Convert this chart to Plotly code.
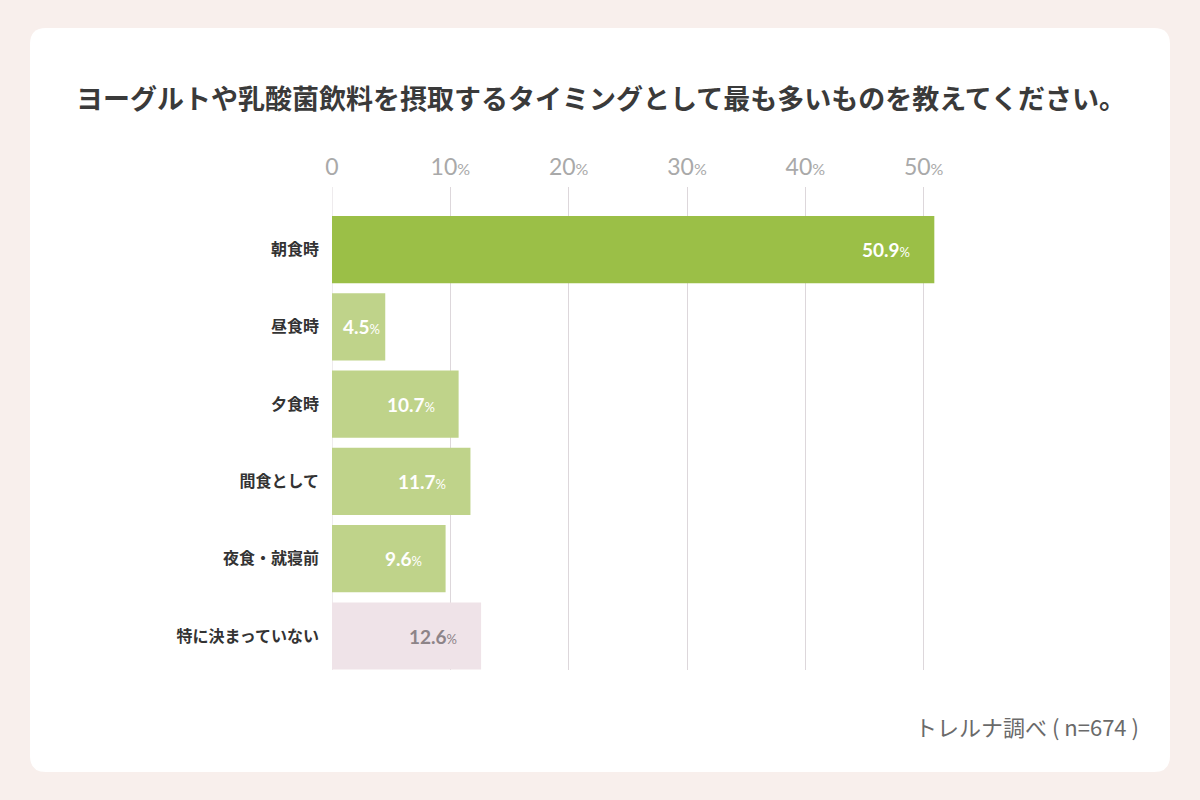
import plotly.graph_objects as go

categories = ["朝食時", "昼食時", "夕食時", "間食として", "夜食・就寝前", "特に決まっていない"]
values = [50.9, 4.5, 10.7, 11.7, 9.6, 12.6]
bar_colors = ["#9bbf47", "#bfd38a", "#bfd38a", "#bfd38a", "#bfd38a", "#efe3e8"]
label_colors = ["#ffffff", "#ffffff", "#ffffff", "#ffffff", "#ffffff", "#8d8488"]
tick_vals = [0, 10, 20, 30, 40, 50]
tick_text = ["0"] + [f"{v}<span style='font-size:16px'>%</span>" for v in tick_vals[1:]]
title_text = "ヨーグルトや乳酸菌飲料を摂取するタイミングとして最も多いものを教えてください。"
source_text = "トレルナ調べ ( n=674 )"

W, H = 1200, 800
L, R, T, B = 332, 971, 187, 670
XMIN, XMAX = 0.0, 54.0
GRID = "#ddd7db"

def px_x(p):
    return (p - L) / (R - L)

def px_y(p):
    return (B - p) / (B - T)

fig = go.Figure()
fig.add_trace(go.Bar(
    y=categories, x=values, orientation="h",
    marker=dict(color=bar_colors, line=dict(width=0)),
    width=0.87, hoverinfo="skip",
))

annotations = []
for cat, v, c in zip(categories, values, label_colors):
    txt = f"<b>{v}</b><span style='font-size:13px'>%</span>"
    if v * (R - L) / XMAX < 80:
        annotations.append(dict(x=v / 2, y=cat, xref="x", yref="y", text=txt, showarrow=False,
                                xanchor="center", xshift=3,
                                font=dict(family="Lato, Noto Sans", size=19, color=c)))
    else:
        annotations.append(dict(x=v, y=cat, xref="x", yref="y", text=txt, showarrow=False,
                                xanchor="right", xshift=-22,
                                font=dict(family="Lato, Noto Sans", size=19, color=c)))

annotations.append(dict(x=px_x(601), y=px_y(97), xref="paper", yref="paper", text=f"<b>{title_text}</b>",
                        showarrow=False, xanchor="center", yanchor="middle",
                        font=dict(family="Noto Sans CJK JP", size=27, color="#3a3a3a")))
annotations.append(dict(x=px_x(1141), y=px_y(726), xref="paper", yref="paper", text=source_text,
                        showarrow=False, xanchor="right", yanchor="middle",
                        font=dict(family="Noto Sans CJK JP", size=22, color="#6a6a6a")))

# rounded white card
x0, x1, y0, y1, r = 30, 1170, 28, 772, 16
def P(x, y):
    return f"{px_x(x)},{px_y(y)}"
path = (f"M {P(x0 + r, y0)} L {P(x1 - r, y0)} Q {P(x1, y0)} {P(x1, y0 + r)} "
        f"L {P(x1, y1 - r)} Q {P(x1, y1)} {P(x1 - r, y1)} L {P(x0 + r, y1)} "
        f"Q {P(x0, y1)} {P(x0, y1 - r)} L {P(x0, y0 + r)} Q {P(x0, y0)} {P(x0 + r, y0)} Z")
shapes = [
    dict(type="path", path=path, xref="paper", yref="paper", fillcolor="#ffffff",
         line=dict(width=0), layer="below"),
    dict(type="line", xref="x", yref="paper", x0=tick_vals[0], x1=tick_vals[0], y0=0, y1=1,
         line=dict(color=GRID, width=1), layer="below"),
]

fig.update_layout(
    width=W, height=H,
    margin=dict(l=L, r=W - R, t=T, b=H - B, pad=0),
    paper_bgcolor="#f8efec", plot_bgcolor="rgba(0,0,0,0)",
    showlegend=False,
    xaxis=dict(range=[XMIN, XMAX], side="top", tickvals=tick_vals, ticktext=tick_text,
               showgrid=True, gridcolor=GRID, gridwidth=1, zeroline=False,
               showline=False, ticks="", ticklabelstandoff=6,
               tickfont=dict(family="Lato, Noto Sans", size=23, color="#a9a9a9")),
    yaxis=dict(range=[5.44, -0.81], showgrid=False, zeroline=False, showline=False,
               ticks="", ticklabelstandoff=12,
               tickfont=dict(family="Noto Sans CJK JP", size=16, color="#333333"),
               tickvals=categories, ticktext=[f"<b>{c}</b>" for c in categories]),
    annotations=annotations, shapes=shapes,
)

fig.write_html("out.html")
